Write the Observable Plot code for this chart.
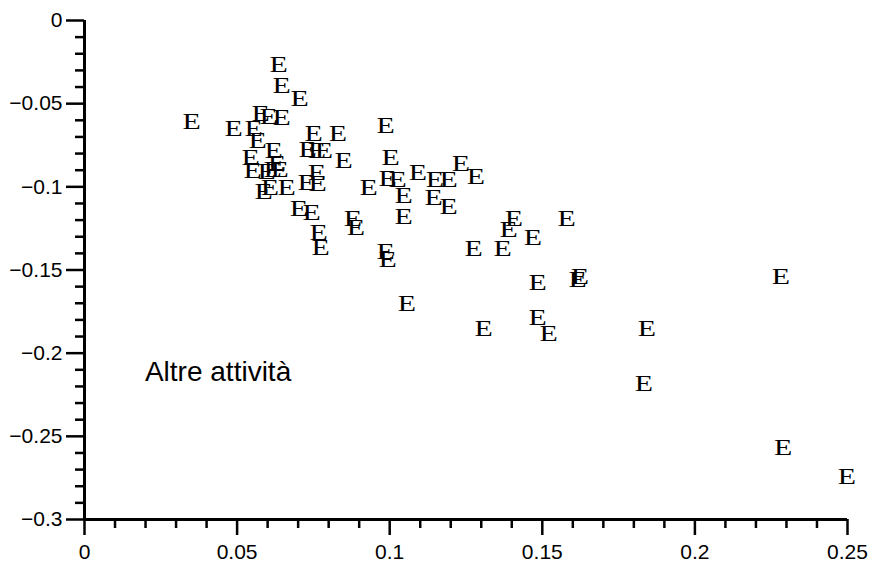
<!DOCTYPE html>
<html><head><meta charset="utf-8">
<script src="https://cdn.jsdelivr.net/npm/d3@7"></script>
<script src="https://cdn.jsdelivr.net/npm/@observablehq/plot@0.6"></script>
<style>html,body{margin:0;padding:0;background:#fff}</style>
</head><body><div id="chart"></div>
<script>
// Point values (x, y)
const xValues = [0.0351,0.0489,0.0554,0.0567,0.0577,0.0603,0.0646,0.0636,0.0646,0.0705,
  0.0620,0.0544,0.0630,0.0551,0.0597,0.0616,0.0639,0.0587,0.0607,0.0662,
  0.0751,0.0830,0.0987,0.0731,0.0761,0.0784,0.0849,0.1003,0.0761,0.0728,
  0.0764,0.0931,0.0993,0.1026,0.1046,0.1046,0.0702,0.0744,0.0879,0.0889,
  0.0767,0.0774,0.0987,0.0993,0.1092,0.1148,0.1193,0.1233,0.1282,0.1144,
  0.1193,0.1275,0.1370,0.1407,0.1390,0.1469,0.1580,0.1485,0.1616,0.1623,
  0.1056,0.1308,0.1485,0.1521,0.1843,0.1833,0.2282,0.2289,0.2498];
const yValues = [-0.0607,-0.0649,-0.0649,-0.0722,-0.0559,-0.0577,-0.0583,-0.0265,-0.0391,-0.0469,
  -0.0782,-0.0824,-0.0860,-0.0902,-0.0908,-0.0896,-0.0896,-0.1028,-0.1004,-0.1004,
  -0.0680,-0.0680,-0.0631,-0.0776,-0.0782,-0.0782,-0.0842,-0.0824,-0.0914,-0.0974,
  -0.0980,-0.1004,-0.0950,-0.0956,-0.1052,-0.1179,-0.1130,-0.1155,-0.1191,-0.1245,
  -0.1275,-0.1365,-0.1389,-0.1437,-0.0914,-0.0956,-0.0956,-0.0860,-0.0938,-0.1064,
  -0.1118,-0.1371,-0.1371,-0.1191,-0.1257,-0.1305,-0.1191,-0.1575,-0.1557,-0.1539,
  -0.1702,-0.1852,-0.1786,-0.1882,-0.1852,-0.2183,-0.1539,-0.2568,-0.2742];
const markerLabel = "E";
const annotationText = ["Altre attività"];
const annotationX = [0.0198];
const annotationY = [-0.2115];

const xMajorTicks = [0, 0.05, 0.1, 0.15, 0.2, 0.25];
const xTickLabels = ["0", "0.05", "0.1", "0.15", "0.2", "0.25"];
const yMajorTicks = [0, -0.05, -0.1, -0.15, -0.2, -0.25, -0.3];
const yTickLabels = ["0", "\u22120.05", "\u22120.1", "\u22120.15", "\u22120.2", "\u22120.25", "\u22120.3"];
const xMinorTicks = d3.range(0, 26).map(i => i / 100).filter(v => Math.round(v * 100) % 5 !== 0);
const yMinorTicks = d3.range(0, 31).map(i => -i / 100).filter(v => Math.round(-v * 100) % 5 !== 0);

const points = xValues.map((x, i) => ({x, y: yValues[i]}));
const notes = annotationText.map((t, i) => ({t, x: annotationX[i], y: annotationY[i]}));

const chart = Plot.plot({
  width: 875,
  height: 564,
  marginLeft: 84,
  marginRight: 28,
  marginTop: 20,
  marginBottom: 45,
  style: {fontFamily: "'Liberation Sans', Arial, sans-serif", fontSize: "21px", color: "#000", background: "#fff"},
  x: {domain: [0, 0.25], label: null},
  y: {domain: [-0.3, 0], label: null},
  marks: [
    Plot.axisY(yMinorTicks, {tickSize: 9, tickFormat: () => "", label: null, strokeWidth: 2.5, stroke: "#000"}),
    Plot.axisX(xMinorTicks, {tickSize: 9, tickFormat: () => "", label: null, strokeWidth: 2.5, stroke: "#000"}),
    Plot.axisY(yMajorTicks, {tickSize: 18, tickPadding: 4, label: null, strokeWidth: 2.5, stroke: "#000",
      tickFormat: d => yTickLabels[yMajorTicks.indexOf(d)]}),
    Plot.axisX(xMajorTicks, {tickSize: 16, tickPadding: 9, label: null, strokeWidth: 2.5, stroke: "#000",
      tickFormat: d => xTickLabels[xMajorTicks.indexOf(d)]}),
    Plot.ruleX([0], {y1: -0.3, y2: 0, strokeWidth: 3, stroke: "#000"}),
    Plot.ruleY([-0.3], {x1: 0, x2: 0.25, strokeWidth: 3, stroke: "#000"}),
    Plot.text(points, {x: "x", y: "y", text: () => markerLabel, fontFamily: "'Liberation Serif', 'Times New Roman', serif",
      fontSize: 23, fill: "#000"}),
    Plot.text(notes, {x: "x", y: "y", text: "t", textAnchor: "start", fontSize: 28, fill: "#000"})
  ]
});
document.getElementById("chart").appendChild(chart);

// Widen the E glyphs horizontally, as in the reference (keep Plot's own positioning)
chart.querySelectorAll('text').forEach(t => {
  if (t.textContent !== markerLabel) return;
  const tr = t.getAttribute("transform") || "";
  t.setAttribute("transform", `${tr} scale(1.3,1)`);
});
</script>
</body></html>
